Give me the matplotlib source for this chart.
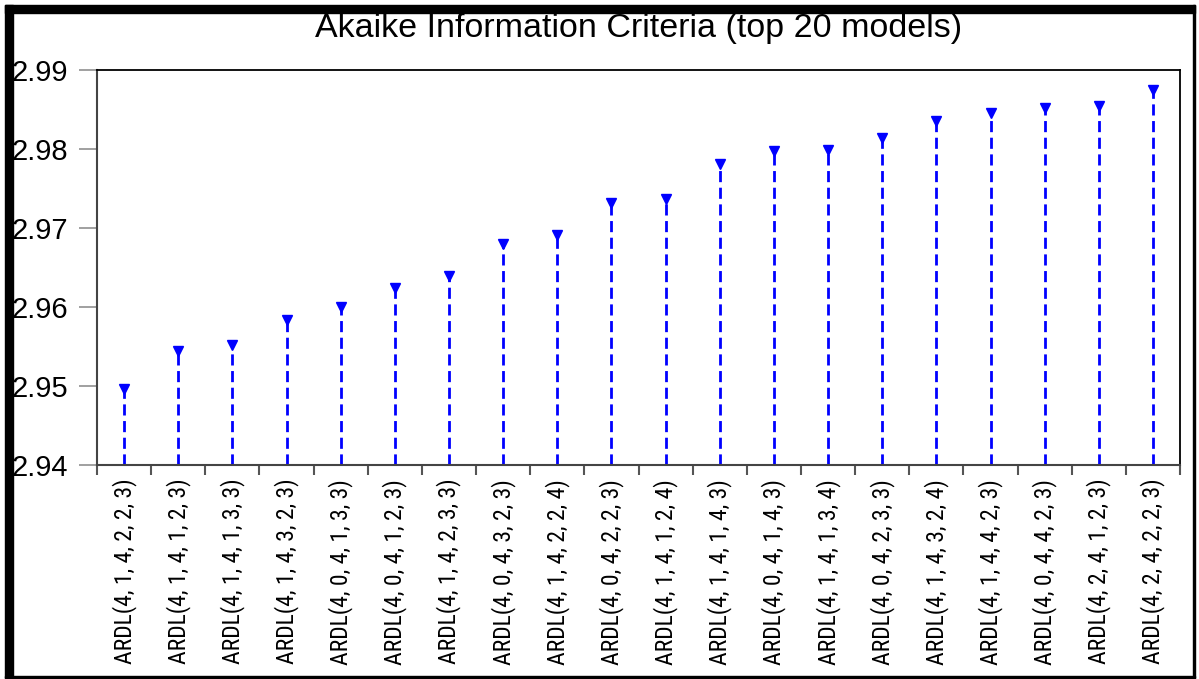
import matplotlib
matplotlib.use("Agg")
import matplotlib.pyplot as plt
from matplotlib import font_manager
from matplotlib.patches import Rectangle
import numpy as np

models = [
    "ARDL(4, 1, 4, 2, 2, 3)", "ARDL(4, 1, 4, 1, 2, 3)", "ARDL(4, 1, 4, 1, 3, 3)",
    "ARDL(4, 1, 4, 3, 2, 3)", "ARDL(4, 0, 4, 1, 3, 3)", "ARDL(4, 0, 4, 1, 2, 3)",
    "ARDL(4, 1, 4, 2, 3, 3)", "ARDL(4, 0, 4, 3, 2, 3)", "ARDL(4, 1, 4, 2, 2, 4)",
    "ARDL(4, 0, 4, 2, 2, 3)", "ARDL(4, 1, 4, 1, 2, 4)", "ARDL(4, 1, 4, 1, 4, 3)",
    "ARDL(4, 0, 4, 1, 4, 3)", "ARDL(4, 1, 4, 1, 3, 4)", "ARDL(4, 0, 4, 2, 3, 3)",
    "ARDL(4, 1, 4, 3, 2, 4)", "ARDL(4, 1, 4, 4, 2, 3)", "ARDL(4, 0, 4, 4, 2, 3)",
    "ARDL(4, 2, 4, 1, 2, 3)", "ARDL(4, 2, 4, 2, 2, 3)",
]
aic = [
    2.9496, 2.9544, 2.9552, 2.9584, 2.9600, 2.9624, 2.9639, 2.9680, 2.9691, 2.9732,
    2.9737, 2.9781, 2.9797, 2.9799, 2.9814, 2.9835, 2.9846, 2.9852, 2.9854, 2.9875,
]
yticks = [2.94, 2.95, 2.96, 2.97, 2.98, 2.99]

# EViews uses a narrow face for the category labels; take one if there is one
installed = {f.name for f in font_manager.fontManager.ttflist}
condensed = {f.name for f in font_manager.fontManager.ttflist
             if str(f.stretch) in ("condensed", "semi-condensed", "75", "87")}
label_font, label_size, label_stretch = "Liberation Sans", 13.2, "normal"
for name in ["Liberation Sans Narrow", "Roboto Condensed", "Arial Narrow"]:
    if name in installed:
        label_font, label_size = name, 17
        break
else:
    if "DejaVu Sans" in condensed:
        label_font, label_size, label_stretch = "DejaVu Sans", 14.5, "condensed"

plt.rcParams["font.family"] = ["Liberation Sans", "DejaVu Sans"]

fig = plt.figure(figsize=(11.99, 6.79), dpi=100)
ax = fig.add_axes([0.0809, 0.3152, 0.9842 - 0.0809, 0.8969 - 0.3152])

x = np.arange(len(models))
base = yticks[0]
ax.vlines(x, base, aic, colors="#0000ff", linestyles=(0, (4, 2)), linewidth=2)
ax.plot(x, aic, linestyle="none", marker="v", markersize=6.5, color="#0000ff")

ax.set_xlim(-0.5, len(models) - 0.5)
ax.set_ylim(yticks[0], yticks[-1])
ax.set_yticks(yticks)
ax.set_yticklabels([f"{v:.2f}" for v in yticks], fontsize=21)
ax.tick_params(axis="y", direction="out", length=13, width=1.2, color="#909090", pad=8)

ax.set_xticks(x)
ax.set_xticklabels(models, rotation=90, fontsize=label_size, family=label_font,
                   fontstretch=label_stretch, va="top")
ax.tick_params(axis="x", which="major", length=0, pad=10)
ax.set_xticks(np.arange(len(models) + 1) - 0.5, minor=True)
ax.tick_params(axis="x", which="minor", direction="out", length=7, width=1.5, color="#555555")

for side in ["left", "bottom"]:
    ax.spines[side].set_color("#444444")
    ax.spines[side].set_linewidth(1.5)
for side in ["top", "right"]:
    ax.spines[side].set_color("black")
    ax.spines[side].set_linewidth(1.3)

fig.text(0.5325, 0.958, "Akaike Information Criteria (top 20 models)",
         ha="center", va="center", fontsize=24.5)

# outer frame, heavy on top and left
W, H = 1199, 679
fig.patches.append(Rectangle((5 / W, 1 - 13 / H), (1195 - 5) / W, 8 / H,
                             transform=fig.transFigure, color="black"))
fig.patches.append(Rectangle((5 / W, 1 - 678 / H), 8 / W, (678 - 5) / H,
                             transform=fig.transFigure, color="black"))
fig.patches.append(Rectangle((1193 / W, 1 - 678 / H), 2 / W, (678 - 5) / H,
                             transform=fig.transFigure, color="black"))
fig.patches.append(Rectangle((5 / W, 1 - 678 / H), (1195 - 5) / W, 2 / H,
                             transform=fig.transFigure, color="black"))

fig.savefig("out.png", dpi=100)
